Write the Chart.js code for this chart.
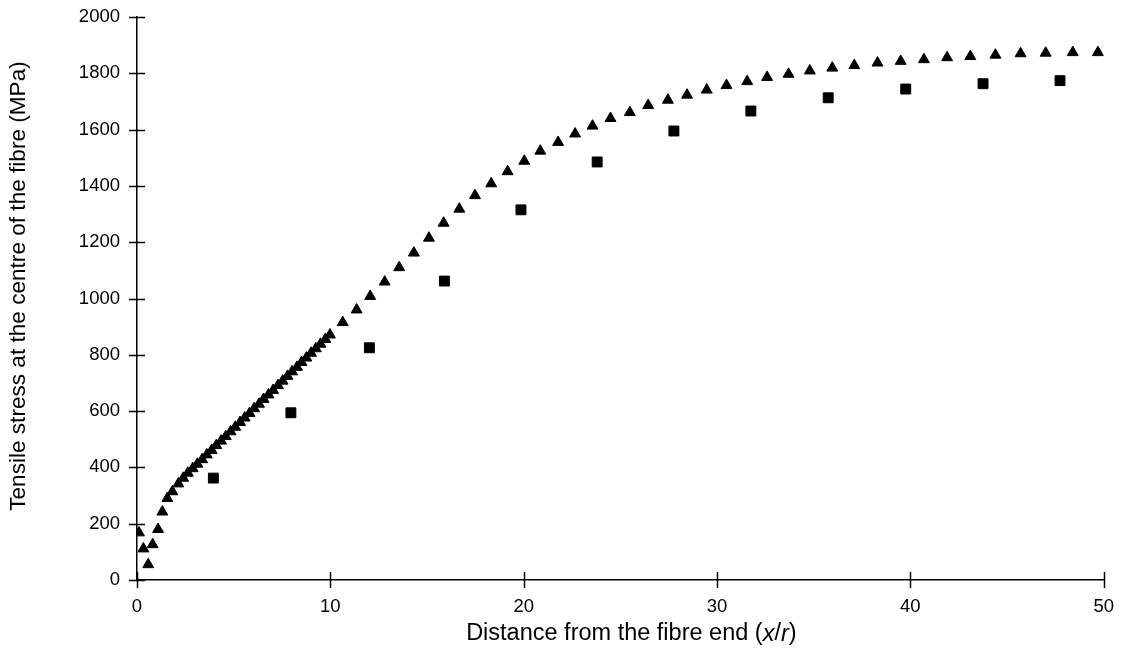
<!DOCTYPE html>
<html>
<head>
<meta charset="utf-8">
<script src="https://cdn.jsdelivr.net/npm/chart.js@4.4.1/dist/chart.umd.min.js"></script>
<style>
  body { margin: 0; background: #fff; }
  #wrap { width: 1130px; height: 652px; }
</style>
</head>
<body>
<div id="wrap"><canvas id="stressChart"></canvas></div>
<script>
// FE prediction (triangles)
const feX = [0.10, 0.33, 0.58, 0.81, 1.09, 1.31, 1.57, 1.83,
  2.14, 2.39, 2.63, 2.88, 3.12, 3.37, 3.61, 3.86, 4.10, 4.35, 4.59, 4.84, 5.08, 5.33, 5.57, 5.82,
  6.06, 6.31, 6.55, 6.80, 7.04, 7.29, 7.53, 7.78, 8.02, 8.27, 8.51, 8.76, 9.00, 9.25, 9.49, 9.74, 9.98,
  10.64, 11.36, 12.06, 12.81, 13.56, 14.32, 15.10, 15.86, 16.67, 17.48, 18.32, 19.17, 20.03,
  20.86, 21.78, 22.66, 23.56, 24.49, 25.49, 26.44, 27.46, 28.45, 29.47, 30.49, 31.56, 32.59, 33.70,
  34.80, 35.96, 37.10, 38.30, 39.50, 40.70, 41.90, 43.10, 44.40, 45.70, 47.00, 48.40, 49.70];
const feY = [168, 111, 55, 126, 180, 242, 290, 314,
  342, 362, 380, 396, 412, 428, 445, 461, 478, 494, 510, 527, 543, 560, 576, 592,
  609, 625, 642, 658, 674, 691, 707, 724, 740, 756, 773, 789, 806, 822, 838, 855, 871,
  915, 960, 1008, 1059, 1110, 1162, 1215, 1268, 1318, 1366, 1408, 1451, 1488,
  1524, 1555, 1585, 1613, 1640, 1661, 1686, 1705, 1723, 1741, 1757, 1771, 1786, 1797,
  1809, 1819, 1828, 1837, 1843, 1849, 1856, 1860, 1865, 1870, 1872, 1874, 1874];

// analytical values (squares)
const anX = [3.95, 7.96, 12.02, 15.90, 19.86, 23.80, 27.77, 31.75, 35.75, 39.76, 43.76, 47.74];
const anY = [362, 594, 825, 1062, 1315, 1485, 1595, 1666, 1713, 1744, 1763, 1774];

const xTicks = [0, 10, 20, 30, 40, 50];
const yTicks = [0, 200, 400, 600, 800, 1000, 1200, 1400, 1600, 1800, 2000];

const toPoints = (xs, ys) => xs.map((x, i) => ({ x: x, y: ys[i] }));

const family = "'Liberation Sans', Arial, sans-serif";
const tickFont = { family: family, size: 18.5 };

Chart.defaults.color = '#000';

// ticks that cross the axis line on both sides
const crossTicks = {
  id: 'crossTicks',
  afterDraw(chart) {
    const ctx = chart.ctx;
    const xs = chart.scales.x, ys = chart.scales.y;
    const len = 8;
    ctx.save();
    ctx.strokeStyle = '#000';
    ctx.lineWidth = 1.5;
    ctx.beginPath();
    xTicks.forEach(v => {
      const px = Math.round(xs.getPixelForValue(v)) + 0.5;
      ctx.moveTo(px, ys.bottom - len);
      ctx.lineTo(px, ys.bottom + len);
    });
    yTicks.forEach(v => {
      const py = Math.round(ys.getPixelForValue(v)) + 0.5;
      ctx.moveTo(xs.left - len, py);
      ctx.lineTo(xs.left + len, py);
    });
    ctx.stroke();
    ctx.restore();
  }
};

// axis titles; the x title has italic x and r
const axisTitles = {
  id: 'axisTitles',
  afterDraw(chart) {
    const ctx = chart.ctx;
    const xs = chart.scales.x;
    const fontOf = (it, size) => (it ? 'italic ' : '') + size + 'px ' + family;
    const parts = [
      ['Distance from the fibre end (', false],
      ['x', true], ['/', false], ['r', true], [')', false]
    ];
    ctx.save();
    ctx.fillStyle = '#000';
    ctx.textBaseline = 'middle';
    let total = 0;
    parts.forEach(p => { ctx.font = fontOf(p[1], 23.5); total += ctx.measureText(p[0]).width; });
    let x = (xs.left + xs.right) / 2 + 11 - total / 2;
    parts.forEach(p => {
      ctx.font = fontOf(p[1], 23.5);
      ctx.fillText(p[0], x, 634);
      x += ctx.measureText(p[0]).width;
    });

    ctx.translate(19, 286);
    ctx.rotate(-Math.PI / 2);
    ctx.textAlign = 'center';
    ctx.font = fontOf(false, 22.6);
    ctx.fillText('Tensile stress at the centre of the fibre (MPa)', 0, 0);
    ctx.restore();
  }
};

const ctx = document.getElementById('stressChart').getContext('2d');
const chart = new Chart(ctx, {
  type: 'scatter',
  data: {
    datasets: [{
      label: 'FE',
      data: toPoints(feX, feY),
      pointStyle: 'triangle',
      pointRadius: 6.3,
      backgroundColor: '#000',
      borderColor: '#000',
      borderWidth: 1
    }, {
      label: 'Analytical',
      data: toPoints(anX, anY),
      pointStyle: 'rect',
      pointRadius: 7,
      backgroundColor: '#000',
      borderColor: '#000',
      borderWidth: 1
    }]
  },
  options: {
    responsive: true,
    maintainAspectRatio: false,
    animation: false,
    layout: { padding: { left: 0, top: 17, right: 26, bottom: 0 } },
    plugins: {
      legend: { display: false },
      tooltip: { enabled: false }
    },
    scales: {
      x: {
        type: 'linear',
        min: 0,
        max: 50,
        afterBuildTicks: s => { s.ticks = xTicks.map(v => ({ value: v })); },
        afterFit: s => { s.height = 72; },
        grid: { display: false, drawTicks: false },
        border: { display: true, color: '#000', width: 1.5 },
        ticks: { padding: 16, font: tickFont, callback: v => String(v) }
      },
      y: {
        min: 0,
        max: 2000,
        afterBuildTicks: s => { s.ticks = yTicks.map(v => ({ value: v })); },
        afterFit: s => { s.width = 137; s.paddingTop = 0; s.paddingBottom = 0; },
        grid: { display: false, drawTicks: false },
        border: { display: true, color: '#000', width: 1.5 },
        ticks: { padding: 17, font: tickFont, callback: v => String(v) }
      }
    }
  },
  plugins: [crossTicks, axisTitles]
});
</script>
</body>
</html>
